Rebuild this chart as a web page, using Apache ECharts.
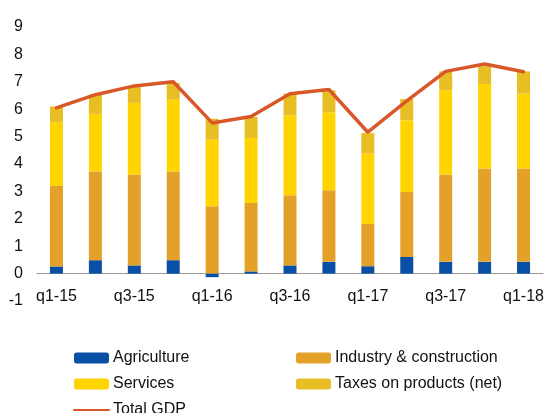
<!DOCTYPE html>
<html>
<head>
<meta charset="utf-8">
<script src="https://cdn.jsdelivr.net/npm/echarts@6/dist/echarts.min.js"></script>
<style>
  html, body { margin: 0; padding: 0; background: #fff; }
  #chart { width: 550px; height: 413px; }
</style>
</head>
<body>
<div id="chart"></div>
<script>
const categories = ['q1-15', 'q2-15', 'q3-15', 'q4-15', 'q1-16', 'q2-16', 'q3-16', 'q4-16', 'q1-17', 'q2-17', 'q3-17', 'q4-17', 'q1-18']
const agriculture = [0.26, 0.49, 0.30, 0.49, -0.13, 0.08, 0.30, 0.43, 0.27, 0.61, 0.43, 0.43, 0.43]
const industry = [2.94, 3.24, 3.32, 3.24, 2.46, 2.50, 2.56, 2.61, 1.54, 2.37, 3.19, 3.41, 3.41]
const services = [2.32, 2.10, 2.61, 2.62, 2.43, 2.37, 2.91, 2.85, 2.57, 2.62, 3.07, 3.08, 2.73]
const taxes = [0.58, 0.70, 0.58, 0.61, 0.76, 0.77, 0.80, 0.80, 0.75, 0.77, 0.69, 0.65, 0.81]
const totalGdp = [6.05, 6.53, 6.85, 7.00, 5.50, 5.73, 6.56, 6.72, 5.16, 6.30, 7.38, 7.65, 7.37]

const font = "'Liberation Sans', Arial, sans-serif"
const textColor = '#111'

const chart = echarts.init(document.getElementById('chart'))

function bar(name, data, color) {
  return {
    name: name,
    type: 'bar',
    stack: 'gdp',
    barWidth: 13,
    data: data,
    itemStyle: { color: color }
  }
}

const legendText = { fontFamily: font, fontSize: 16, color: textColor, padding: [0, 0, 0, -1] }

chart.setOption({
  animation: false,
  grid: {
    left: 37,
    right: 7,
    top: 27,
    bottom: 112,
    containLabel: false
  },
  legend: [{
    left: 68,
    top: 345,
    height: 90,
    orient: 'vertical',
    itemWidth: 35,
    itemHeight: 11,
    itemGap: 10,
    textStyle: legendText,
    data: [
      'Agriculture',
      'Services',
      { name: 'Total GDP', itemStyle: { opacity: 0 } }
    ]
  }, {
    left: 291,
    top: 345,
    height: 90,
    orient: 'vertical',
    itemWidth: 35,
    itemHeight: 11,
    itemGap: 10,
    textStyle: legendText,
    data: ['Industry & construction', 'Taxes on products (net)']
  }],
  xAxis: {
    type: 'category',
    data: categories,
    axisTick: { show: false },
    axisLine: { show: true, onZero: true, lineStyle: { color: '#999', width: 1 } },
    axisLabel: {
      interval: 1,
      fontFamily: font,
      fontSize: 16,
      color: textColor,
      margin: -12
    },
    splitLine: { show: false }
  },
  yAxis: {
    type: 'value',
    min: -1,
    max: 9,
    interval: 1,
    axisLine: { show: false },
    axisTick: { show: false },
    splitLine: { show: false },
    axisLabel: {
      fontFamily: font,
      fontSize: 16,
      color: textColor,
      margin: 14
    }
  },
  series: [
    bar('Agriculture', agriculture, '#0A4FA6'),
    bar('Industry & construction', industry, '#E4A12A'),
    bar('Services', services, '#FFD400'),
    bar('Taxes on products (net)', taxes, '#E8BE25'),
    {
      name: 'Total GDP',
      type: 'line',
      data: totalGdp,
      symbol: 'none',
      z: 5,
      lineStyle: { color: '#D9582A', width: 3.5, cap: 'round' },
      itemStyle: { color: '#D9582A' }
    }
  ]
})
</script>
</body>
</html>
